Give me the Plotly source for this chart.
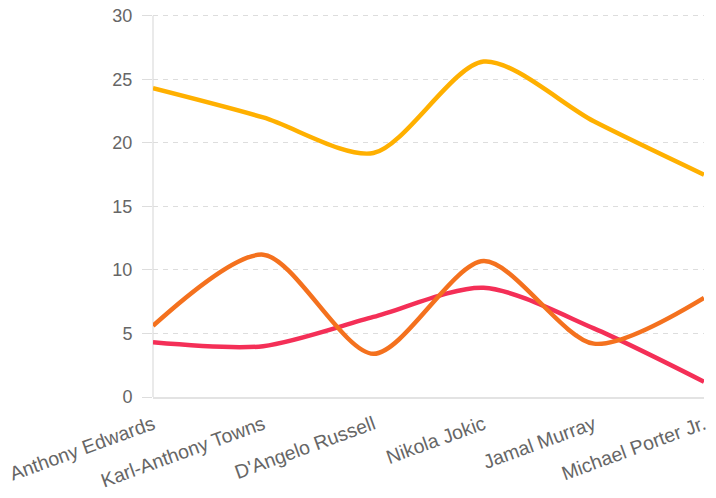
import plotly.graph_objects as go

players = ["Anthony Edwards", "Karl-Anthony Towns", "D'Angelo Russell",
           "Nikola Jokic", "Jamal Murray", "Michael Porter Jr."]
points = [24.3, 22.0, 19.2, 26.4, 21.7, 17.5]
rebounds = [5.6, 11.2, 3.4, 10.7, 4.2, 7.8]
assists = [4.3, 4.0, 6.3, 8.6, 5.4, 1.2]

y_ticks = [0, 5, 10, 15, 20, 25, 30]

fig = go.Figure()
fig.add_trace(go.Scatter(x=players, y=assists, mode="lines",
                         line=dict(color="#F42F57", width=4.5, shape="spline", smoothing=0.8),
                         name="Assists"))
fig.add_trace(go.Scatter(x=players, y=rebounds, mode="lines",
                         line=dict(color="#F4711E", width=4.5, shape="spline", smoothing=0.8),
                         name="Rebounds"))
fig.add_trace(go.Scatter(x=players, y=points, mode="lines",
                         line=dict(color="#FFB000", width=4.5, shape="spline", smoothing=0.8),
                         name="Points"))

fig.update_layout(
    width=716, height=498,
    margin=dict(l=153, r=12, t=12, b=101),
    paper_bgcolor="white", plot_bgcolor="white",
    showlegend=False,
    font=dict(family="Liberation Sans, Arial, sans-serif", color="#666666"),
)
fig.update_xaxes(
    automargin=False,
    showgrid=False, zeroline=False,
    showline=True, linecolor="#e3e3e3", linewidth=1.5,
    tickangle=-20, tickfont=dict(size=19.5, color="#666666"),
    ticks="", range=[0, 5], ticklabelstandoff=7,
)
fig.update_yaxes(
    automargin=False,
    range=[0, 30.3], tickvals=y_ticks,
    showgrid=True, gridcolor="#dddddd", griddash="5px,5px", gridwidth=1.2,
    zeroline=True, zerolinecolor="#e3e3e3", zerolinewidth=1.5,
    showline=False,
    ticks="outside", ticklen=10, tickcolor="#dddddd",
    tickfont=dict(size=18, color="#666666"), ticklabelstandoff=6,
)
# y-axis line drawn from 0 to 30 only, like the reference
fig.add_shape(type="line", xref="x domain", yref="y", x0=0, x1=0, y0=0, y1=y_ticks[-1],
              line=dict(color="#e3e3e3", width=1.5), layer="below")

# Remove the default 8px body margin so the figure fills the window exactly.
fig.write_html("out.html",
               config={"displayModeBar": False},
               post_script="document.body.style.margin='0';document.body.style.overflow='hidden';")
